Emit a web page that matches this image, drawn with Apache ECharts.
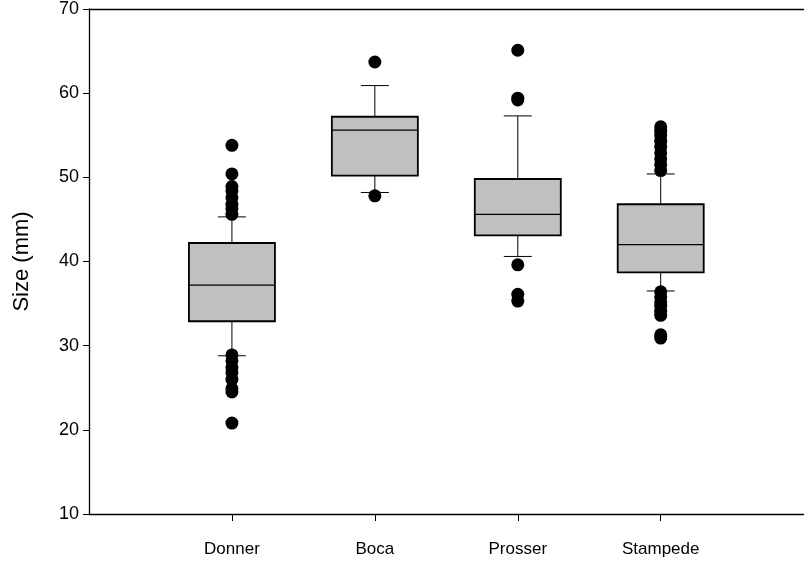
<!DOCTYPE html>
<html>
<head>
<meta charset="utf-8">
<script src="https://cdn.jsdelivr.net/npm/echarts@6/dist/echarts.min.js"></script>
<style>
html, body { margin: 0; padding: 0; background: #fff; }
#chart { width: 809px; height: 561px; }
</style>
</head>
<body>
<div id="chart"></div>
<script>
// 类别（两端留空位，让盒子落在 1..4 的位置上）
var categories = ['', 'Donner', 'Boca', 'Prosser', 'Stampede', ' '];
var groups = ['Donner', 'Boca', 'Prosser', 'Stampede'];

// 箱线图五个数
var whiskerLow  = [28.8, 48.2, 40.6, 36.5];
var q1          = [32.9, 50.2, 43.1, 38.7];
var median      = [37.2, 55.6, 45.6, 42.0];
var q3          = [42.2, 57.2, 49.8, 46.8];
var whiskerHigh = [45.3, 60.9, 57.3, 50.4];

// 离群点
var outDonner   = [53.8, 50.4, 48.9, 48.4, 47.6, 46.8, 46.3, 45.6,
                   28.9, 28.2, 27.4, 26.8, 26.0, 24.9, 24.5, 20.8];
var outBoca     = [63.7, 47.8];
var outProsser  = [65.1, 59.4, 59.2, 39.6, 36.1, 35.3];
var outStampede = [56.0, 55.5, 55.0, 54.3, 53.6, 52.9, 52.2, 51.5, 50.8,
                   36.4, 35.8, 35.2, 34.7, 34.1, 33.6, 31.3, 30.9];

var yTicks = [10, 20, 30, 40, 50, 60, 70];

var boxData = groups.map(function (g, i) {
    return [g, whiskerLow[i], q1[i], median[i], q3[i], whiskerHigh[i]];
});
var outlierData = [];
[outDonner, outBoca, outProsser, outStampede].forEach(function (arr, i) {
    arr.forEach(function (v) { outlierData.push([groups[i], v]); });
});

var myChart = echarts.init(document.getElementById('chart'));

function renderBox(params, api) {
    var x = api.value(0);
    var pLow = api.coord([x, api.value(1)]);
    var pQ1 = api.coord([x, api.value(2)]);
    var pMed = api.coord([x, api.value(3)]);
    var pQ3 = api.coord([x, api.value(4)]);
    var pHigh = api.coord([x, api.value(5)]);
    var cx = pQ1[0];
    var halfBox = 43;
    var halfCap = 14;
    var line = { stroke: '#000', lineWidth: 1 };
    return {
        type: 'group',
        children: [
            { type: 'line', shape: { x1: cx, y1: pQ3[1], x2: cx, y2: pHigh[1] }, style: line },
            { type: 'line', shape: { x1: cx, y1: pQ1[1], x2: cx, y2: pLow[1] }, style: line },
            { type: 'line', shape: { x1: cx - halfCap, y1: pHigh[1], x2: cx + halfCap, y2: pHigh[1] }, style: line },
            { type: 'line', shape: { x1: cx - halfCap, y1: pLow[1], x2: cx + halfCap, y2: pLow[1] }, style: line },
            {
                type: 'rect',
                shape: { x: cx - halfBox, y: pQ3[1], width: halfBox * 2, height: pQ1[1] - pQ3[1] },
                style: { fill: '#c0c0c0', stroke: '#000', lineWidth: 1.8 }
            },
            { type: 'line', shape: { x1: cx - halfBox, y1: pMed[1], x2: cx + halfBox, y2: pMed[1] }, style: { stroke: '#000', lineWidth: 1.2 } }
        ]
    };
}

myChart.setOption({
    animation: false,
    backgroundColor: '#fff',
    grid: {
        left: 89,
        right: 0,
        top: 9,
        bottom: 47
    },
    xAxis: [{
        type: 'category',
        data: categories,
        boundaryGap: false,
        position: 'bottom',
        axisLine: { lineStyle: { color: '#000', width: 1.3 } },
        axisTick: {
            length: 7,
            inside: false,
            interval: function (index) { return index > 0 && index < categories.length - 1; },
            lineStyle: { color: '#000', width: 1 }
        },
        axisLabel: {
            margin: 27,
            color: '#000',
            fontFamily: 'Liberation Sans, Arial, sans-serif',
            fontSize: 17,
            interval: 0
        },
        splitLine: { show: false }
    }, {
        type: 'category',
        data: categories,
        boundaryGap: false,
        position: 'top',
        axisLine: { lineStyle: { color: '#000', width: 1.3 } },
        axisTick: { show: false },
        axisLabel: { show: false },
        splitLine: { show: false }
    }],
    yAxis: {
        type: 'value',
        min: yTicks[0],
        max: yTicks[yTicks.length - 1],
        interval: 10,
        name: 'Size (mm)',
        nameLocation: 'middle',
        nameGap: 56,
        nameTextStyle: {
            color: '#000',
            fontFamily: 'Liberation Sans, Arial, sans-serif',
            fontSize: 22
        },
        axisLine: { show: true, lineStyle: { color: '#000', width: 1.3 } },
        axisTick: { show: true, length: 6, lineStyle: { color: '#000', width: 1 } },
        axisLabel: {
            margin: 10,
            color: '#000',
            fontFamily: 'Liberation Sans, Arial, sans-serif',
            fontSize: 18
        },
        splitLine: { show: false }
    },
    series: [{
        type: 'custom',
        name: 'box',
        renderItem: renderBox,
        encode: { x: 0, y: [1, 2, 3, 4, 5] },
        data: boxData,
        z: 2
    }, {
        type: 'scatter',
        name: 'outliers',
        data: outlierData,
        symbol: 'circle',
        symbolSize: 13,
        itemStyle: { color: '#000', opacity: 1 },
        z: 3
    }]
});
</script>
</body>
</html>
